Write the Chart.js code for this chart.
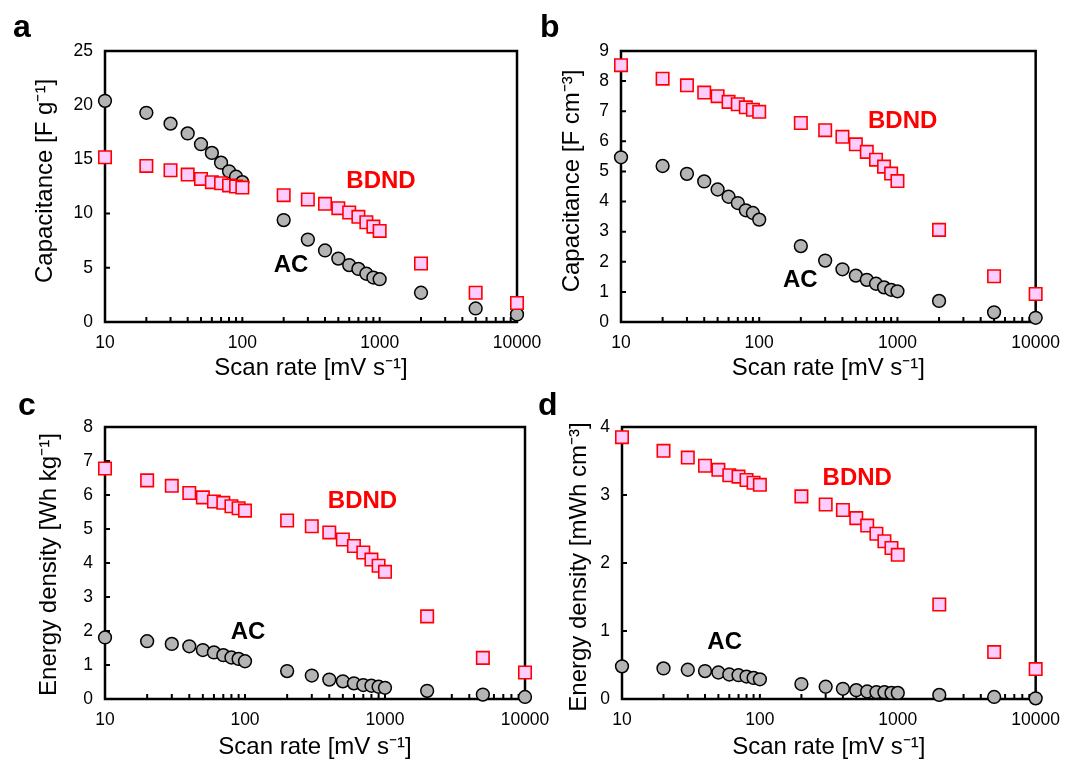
<!DOCTYPE html>
<html>
<head>
<meta charset="utf-8">
<script src="https://cdn.jsdelivr.net/npm/chart.js@4.4.1/dist/chart.umd.min.js"></script>
<style>
html,body{margin:0;padding:0;background:#fff;width:1071px;height:761px;overflow:hidden;}
canvas{position:absolute;left:0;top:0;}
</style>
</head>
<body>
<script>
// ---------- data ----------
const scanRates = [10,20,30,40,50,60,70,80,90,100,200,300,400,500,600,700,800,900,1000,2000,5000,10000];
const xTickValues = [10,20,30,40,50,60,70,80,90,100,200,300,400,500,600,700,800,900,1000,2000,3000,4000,5000,6000,7000,8000,9000,10000];

const capGravBDND = [15.2,14.4,14.0,13.6,13.2,12.9,12.8,12.6,12.5,12.4,11.7,11.3,10.9,10.5,10.1,9.7,9.2,8.8,8.4,5.4,2.7,1.75];
const capGravAC   = [20.4,19.3,18.3,17.4,16.4,15.6,14.7,13.9,13.4,12.9,9.4,7.6,6.6,5.85,5.25,4.9,4.45,4.1,3.95,2.7,1.25,0.7];

const capVolBDND = [8.53,8.08,7.86,7.62,7.5,7.31,7.23,7.13,7.05,6.98,6.61,6.37,6.15,5.9,5.65,5.39,5.16,4.93,4.68,3.06,1.52,0.93];
const capVolAC   = [5.47,5.18,4.92,4.67,4.4,4.16,3.95,3.71,3.62,3.4,2.52,2.04,1.75,1.54,1.4,1.27,1.15,1.07,1.02,0.7,0.32,0.14];

const enGravBDND = [6.78,6.43,6.27,6.06,5.93,5.81,5.77,5.67,5.61,5.54,5.25,5.08,4.9,4.69,4.5,4.31,4.1,3.92,3.74,2.43,1.21,0.78];
const enGravAC   = [1.81,1.7,1.62,1.55,1.44,1.37,1.29,1.22,1.18,1.11,0.82,0.69,0.57,0.52,0.46,0.41,0.39,0.36,0.33,0.24,0.13,0.06];

const enVolBDND = [3.85,3.65,3.55,3.43,3.37,3.29,3.27,3.22,3.18,3.15,2.98,2.86,2.78,2.66,2.55,2.43,2.32,2.22,2.12,1.39,0.69,0.44];
const enVolAC   = [0.48,0.45,0.43,0.41,0.39,0.36,0.35,0.33,0.31,0.29,0.22,0.18,0.15,0.13,0.11,0.10,0.10,0.09,0.09,0.06,0.03,0.01];

const seriesNames = ['BDND', 'AC'];
const xTitle = 'Scan rate [mV s⁻¹]';
const yTitles = ['Capacitance [F g⁻¹]', 'Capacitance [F cm⁻³]', 'Energy density [Wh kg⁻¹]', 'Energy density [mWh cm⁻³]'];
const panelLetters = ['a', 'b', 'c', 'd'];
const yMax = [25, 9, 8, 4];
const yStep = [5, 1, 1, 1];
// in-plot series labels, in data coordinates [x, y]
const notesA = [['BDND', 1023, 12.98], ['AC', 226, 5.18]];
const notesB = [['BDND', 1091, 6.67], ['AC', 198, 1.38]];
const notesC = [['BDND', 691, 5.81], ['AC', 105, 1.97]];
const notesD = [['BDND', 508, 3.24], ['AC', 55.5, 0.83]];

// ---------- layout ----------
const FONT = '"Liberation Sans", Arial, Helvetica, sans-serif';
const W = 1071, H = 761, YW = 75, XH = 60, TF = 24;
const panels = [
  {area:{l:105,t:51,r:517,b:322}, lx:13, ly:37, ytX:45, ytY:181, xtY:368, bdnd:capGravBDND, ac:capGravAC, notes:notesA},
  {area:{l:621,t:51,r:1042,b:322}, lx:540, ly:37, ytX:572, ytY:181, xtY:368, bdnd:capVolBDND, ac:capVolAC, notes:notesB},
  {area:{l:105,t:427,r:525,b:699}, lx:18, ly:415, ytX:49, ytY:564.5, xtY:747, bdnd:enGravBDND, ac:enGravAC, notes:notesC},
  {area:{l:622,t:427,r:1043,b:699}, lx:538, ly:415, ytX:579.5, ytY:567, xtY:747, bdnd:enVolBDND, ac:enVolAC, notes:notesD}
];

const isPow10 = v => Math.abs(Math.log10(v) - Math.round(Math.log10(v))) < 1e-9;

const framePlugin = {
  id: 'frame',
  beforeDatasetsDraw(chart, args, opts) {
    const {ctx, chartArea: a, scales} = chart;
    ctx.save();
    ctx.strokeStyle = '#000';
    ctx.lineWidth = 2.5;
    ctx.lineCap = 'square';
    ctx.strokeRect(a.left, a.top, a.right - a.left, a.bottom - a.top);
    ctx.lineWidth = 2;
    ctx.lineCap = 'butt';
    ctx.beginPath();
    scales.x.ticks.forEach(t => {
      const px = scales.x.getPixelForValue(t.value);
      ctx.moveTo(px, a.bottom);
      ctx.lineTo(px, a.bottom - 5);
    });
    scales.y.ticks.forEach(t => {
      const py = scales.y.getPixelForValue(t.value);
      ctx.moveTo(a.left, py);
      ctx.lineTo(a.left + 5, py);
    });
    ctx.stroke();
    ctx.restore();
  },
  afterDraw(chart, args, opts) {
    const {ctx, scales} = chart;
    ctx.save();
    ctx.textAlign = 'center';
    ctx.textBaseline = 'middle';
    ctx.font = 'bold 24px ' + FONT;
    opts.notes.forEach(([txt, x, y]) => {
      ctx.fillStyle = txt === 'BDND' ? '#ff0000' : '#000';
      ctx.fillText(txt, scales.x.getPixelForValue(x), scales.y.getPixelForValue(y));
    });
    // y-axis title
    ctx.save();
    ctx.translate(opts.ytX, opts.ytY);
    ctx.rotate(-Math.PI / 2);
    ctx.fillStyle = '#000';
    ctx.font = TF + 'px ' + FONT;
    ctx.fillText(opts.ytitle, 0, 0);
    ctx.restore();
    // panel letter
    ctx.textAlign = 'left';
    ctx.textBaseline = 'alphabetic';
    ctx.fillStyle = '#000';
    ctx.font = 'bold 32px ' + FONT;
    ctx.fillText(opts.letter, opts.lx, opts.ly);
    ctx.restore();
  }
};

panels.forEach((p, i) => {
  const cv = document.createElement('canvas');
  cv.width = W; cv.height = H;
  cv.style.width = W + 'px'; cv.style.height = H + 'px';
  document.body.appendChild(cv);
  const a = p.area;
  new Chart(cv.getContext('2d'), {
    type: 'scatter',
    data: {
      datasets: [
        {
          label: seriesNames[0],
          data: scanRates.map((x, k) => ({x, y: p.bdnd[k]})),
          pointStyle: 'rect',
          pointRadius: 8.8,
          pointHoverRadius: 8.8,
          backgroundColor: '#ffccff',
          borderColor: '#ff0000',
          borderWidth: 1.6,
          clip: false
        },
        {
          label: seriesNames[1],
          data: scanRates.map((x, k) => ({x, y: p.ac[k]})),
          pointStyle: 'circle',
          pointRadius: 6.4,
          pointHoverRadius: 6.4,
          backgroundColor: '#b4b4b4',
          borderColor: '#000',
          borderWidth: 1.5,
          clip: false
        }
      ]
    },
    options: {
      responsive: false,
      animation: false,
      devicePixelRatio: 1,
      events: [],
      layout: {padding: {left: a.l - YW, top: a.t, right: W - a.r, bottom: H - a.b - XH}},
      plugins: {
        legend: {display: false},
        tooltip: {enabled: false},
        frame: {notes: p.notes, letter: panelLetters[i], lx: p.lx, ly: p.ly,
                ytitle: yTitles[i], ytX: p.ytX, ytY: p.ytY}
      },
      scales: {
        x: {
          type: 'logarithmic',
          position: 'bottom',
          min: 10, max: 10000,
          afterFit: s => { s.height = XH; },
          afterBuildTicks: s => { s.ticks = xTickValues.map(v => ({value: v, major: isPow10(v)})); },
          grid: {display: false, drawTicks: false},
          border: {display: false},
          ticks: {
            autoSkip: false, maxRotation: 0, minRotation: 0, padding: 11,
            color: '#000', font: {family: FONT, size: 17.5},
            callback: v => isPow10(v) ? String(v) : ''
          },
          title: {
            display: true, text: xTitle, color: '#000',
            font: {family: FONT, size: TF, lineHeight: 1},
            padding: {top: 0, bottom: a.b + XH - TF / 2 - p.xtY}
          }
        },
        y: {
          type: 'linear',
          min: 0, max: yMax[i],
          afterFit: s => { s.width = YW; },
          grid: {display: false, drawTicks: false},
          border: {display: false},
          ticks: {
            stepSize: yStep[i], padding: 12,
            color: '#000', font: {family: FONT, size: 17.5}
          },
          title: {display: false}
        }
      }
    },
    plugins: [framePlugin]
  });
});
</script>
</body>
</html>
